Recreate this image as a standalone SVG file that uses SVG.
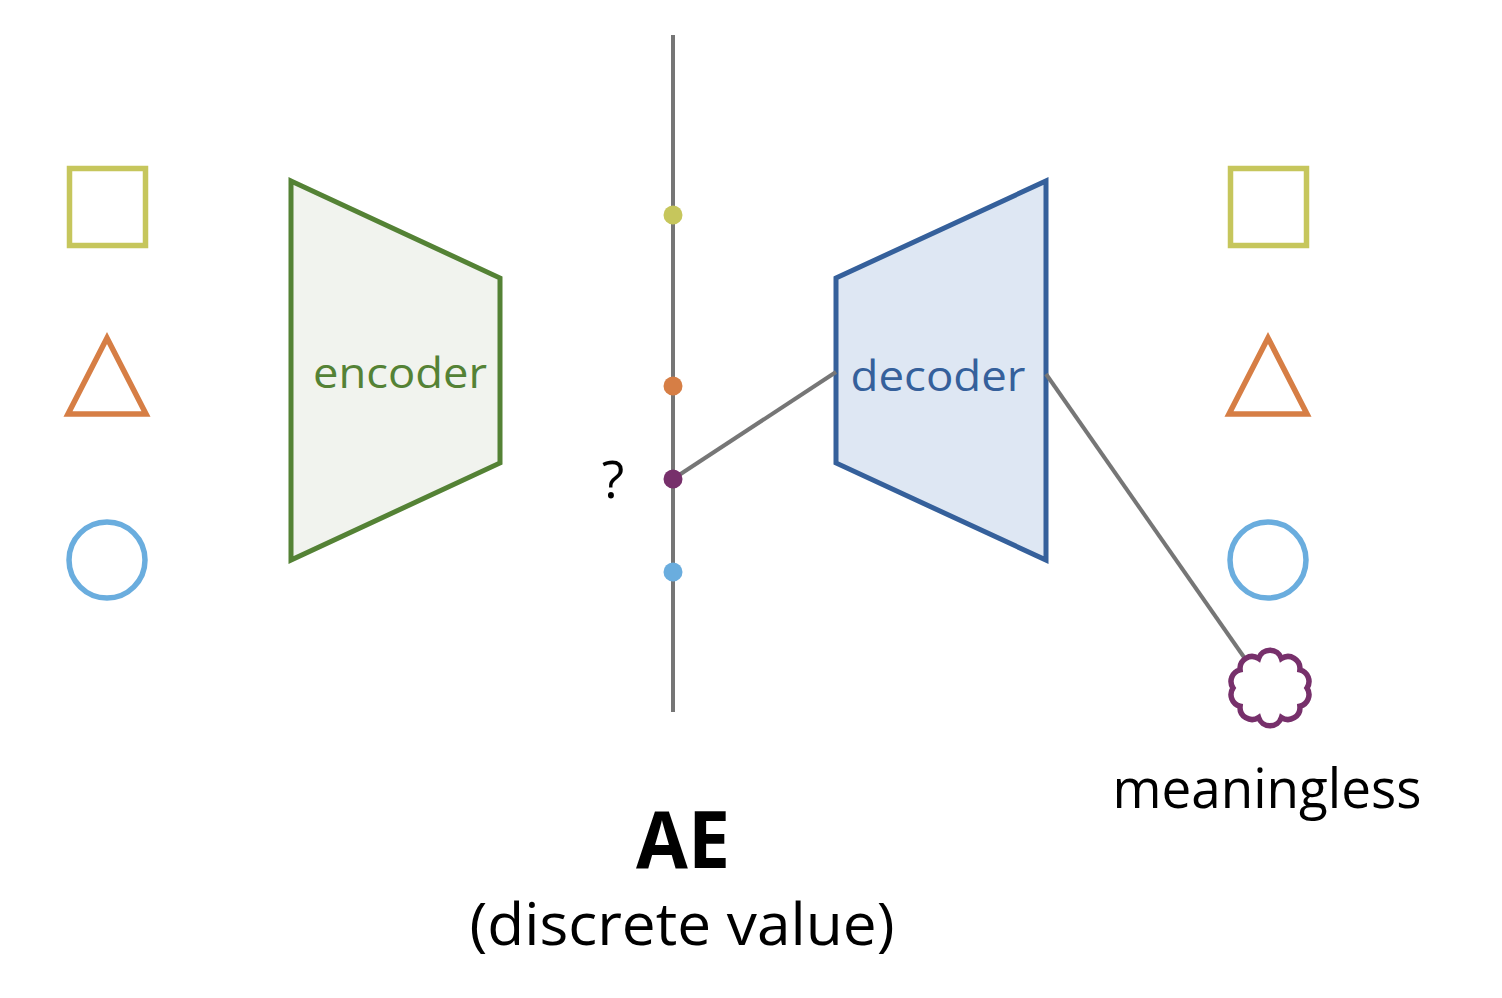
<svg xmlns="http://www.w3.org/2000/svg" width="1502" height="998" viewBox="0 0 1502 998">
<style>
.t{font-family:"Open Sans","Noto Sans","Liberation Sans",sans-serif}
.conn{stroke:#767676;stroke-width:4;fill:none}
</style>
<rect width="1502" height="998" fill="#ffffff"/>
<g id="inputs" fill="none" stroke-width="5.5">
<rect x="69.5" y="168.5" width="76" height="77" stroke="#C6C65C"/>
<polygon points="107,338 68,414 146,414" stroke="#D67E45" stroke-linejoin="miter"/>
<circle cx="107" cy="560" r="38" stroke="#6AADDE"/>
</g>
<g id="encoder">
<polygon points="291,181 500,278 500,463 291,560" fill="#F1F3EE" stroke="#548235" stroke-width="5"/>
<text class="t" x="400" y="388" font-size="42" fill="#548235" text-anchor="middle" textLength="174" lengthAdjust="spacingAndGlyphs">encoder</text>
</g>
<g id="decoder">
<polygon points="836,278 1046,181 1046,560 836,463" fill="#DEE7F3" stroke="#35609B" stroke-width="5"/>
<text class="t" x="938" y="391" font-size="42" fill="#35609B" text-anchor="middle" textLength="175" lengthAdjust="spacingAndGlyphs">decoder</text>
</g>
<g id="connectors">
<line class="conn" x1="673" y1="35" x2="673" y2="712"/>
<line class="conn" x1="673" y1="479" x2="836" y2="372" stroke-width="3.5"/>
<line class="conn" x1="1046" y1="374" x2="1246" y2="660" stroke-width="3.5"/>
</g>
<g id="latent">
<circle cx="673" cy="215" r="9.5" fill="#C6C65C"/>
<circle cx="673" cy="386" r="9.5" fill="#D67E45"/>
<circle cx="673" cy="479" r="9.5" fill="#77306B"/>
<circle cx="673" cy="572" r="9.5" fill="#6AADDE"/>
<text class="t" x="613" y="498" font-size="52" fill="#000" text-anchor="middle">?</text>
</g>
<g id="outputs" fill="none" stroke-width="5.5">
<rect x="1230.5" y="168.5" width="76" height="77" stroke="#C6C65C"/>
<polygon points="1268,338 1229,414 1307,414" stroke="#D67E45"/>
<circle cx="1268" cy="560" r="38" stroke="#6AADDE"/>
</g>
<g id="meaningless">
<path d="M1307,688 A12,12 0 0 1 1299.9,706.2 A12,12 0 0 1 1281.4,717.5 A12,12 0 0 1 1258.6,717.5 A12,12 0 0 1 1240.1,706.2 A12,12 0 0 1 1233,688 A12,12 0 0 1 1240.1,669.8 A12,12 0 0 1 1258.6,658.5 A12,12 0 0 1 1281.4,658.5 A12,12 0 0 1 1299.9,669.8 A12,12 0 0 1 1307,688 Z" fill="#ffffff" stroke="#77306B" stroke-width="5.5"/>
<text class="t" x="1267" y="808" font-size="55" fill="#000" text-anchor="middle" textLength="309" lengthAdjust="spacingAndGlyphs">meaningless</text>
</g>
<g id="title">
<text class="t" x="683" y="868" font-size="78" font-weight="bold" fill="#000" text-anchor="middle" textLength="94" lengthAdjust="spacingAndGlyphs">AE</text>
<text class="t" x="682" y="945" font-size="58" fill="#000" text-anchor="middle" textLength="425" lengthAdjust="spacingAndGlyphs">(discrete value)</text>
</g>
</svg>
